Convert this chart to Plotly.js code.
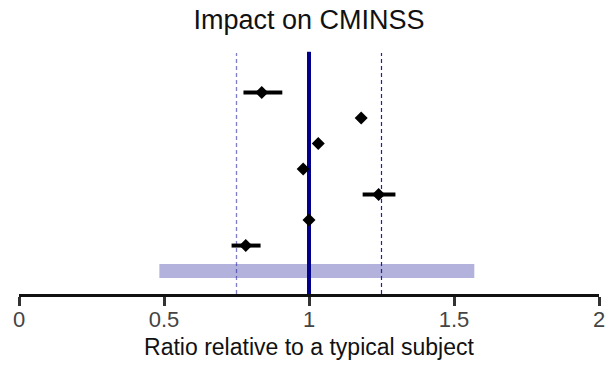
<!DOCTYPE html>
<html>
<head>
<meta charset="utf-8">
<script src="https://cdn.plot.ly/plotly-3.0.1.min.js"></script>
<style>
  html, body { margin: 0; padding: 0; background: #fff; }
  #chart { width: 613px; height: 369px; }
</style>
</head>
<body>
<div id="chart"></div>
<script>
// Covariate effects: point estimate and interval per row (row 8 at the top)
const rows     = [8, 7, 6, 5, 4, 3, 2];
const estimate = [0.837, 1.18, 1.032, 0.98, 1.24, 1.0, 0.782];
const lower    = [0.774, 1.18, 1.032, 0.98, 1.185, 1.0, 0.733];
const upper    = [0.908, 1.18, 1.032, 0.98, 1.298, 1.0, 0.833];

// Reference range of the typical subject (shaded band on row 1)
const bandRow   = 1;
const bandRange = [0.484, 1.57];

// Reference lines: no effect and the 0.75–1.25 limits
const refLine    = 1;
const limitLines = [0.75, 1.25];

const tickVals   = [0, 0.5, 1, 1.5, 2];
const tickLabels = ['0', '0.5', '1', '1.5', '2'];

const yBottom = 0.1;
const yTop = 9.67;

const traces = [
  {
    x: bandRange, y: [bandRow, bandRow],
    mode: 'lines', hoverinfo: 'skip',
    line: { color: 'rgb(178,178,220)', width: 14 }
  },
  {
    x: [limitLines[0], limitLines[0]], y: [yBottom, 9.55],
    mode: 'lines', hoverinfo: 'skip',
    line: { color: 'rgba(40,40,160,0.6)', width: 1.3, dash: '4px,3px' }
  },
  {
    x: [limitLines[1], limitLines[1]], y: [yBottom, 9.55],
    mode: 'lines', hoverinfo: 'skip',
    line: { color: 'rgb(30,30,175)', width: 1.2, dash: '4px,3px' }
  },
  {
    x: [refLine, refLine], y: [yBottom, 9.6],
    mode: 'lines', hoverinfo: 'skip',
    line: { color: 'rgb(0,0,139)', width: 4 }
  },
  {
    x: estimate, y: rows,
    mode: 'markers', type: 'scatter',
    marker: { symbol: 'diamond', size: 10, color: '#000' },
    error_x: {
      type: 'data', symmetric: false,
      array: upper.map((u, i) => u - estimate[i]),
      arrayminus: estimate.map((e, i) => e - lower[i]),
      color: '#000', thickness: 4, width: 0
    }
  }
];

const layout = {
  width: 613, height: 369,
  margin: { l: 19, r: 14, t: 50, b: 75 },
  paper_bgcolor: '#fff', plot_bgcolor: '#fff',
  showlegend: false,
  font: { family: 'Liberation Sans, Arial, sans-serif', color: '#000' },
  title: {
    text: 'Impact on CMINSS',
    font: { size: 27, color: '#111' },
    x: 0.5, xref: 'paper',
    y: 1 - 10 / 369, yref: 'container', yanchor: 'top'
  },
  xaxis: {
    range: [0, 2],
    tickvals: tickVals, ticktext: tickLabels,
    showgrid: false, zeroline: false,
    showline: true, linecolor: '#111', linewidth: 2.5,
    ticks: 'outside', ticklen: 9, tickwidth: 3, tickcolor: '#333',
    ticklabelstandoff: -5,
    tickfont: { size: 22, color: '#444' },
    title: { text: 'Ratio relative to a typical subject', font: { size: 23, color: '#111' }, standoff: 8 },
    fixedrange: true
  },
  yaxis: {
    range: [yBottom, yTop],
    visible: false, showgrid: false, zeroline: false, fixedrange: true
  }
};

Plotly.newPlot('chart', traces, layout, { displayModeBar: false, staticPlot: true });
</script>
</body>
</html>
